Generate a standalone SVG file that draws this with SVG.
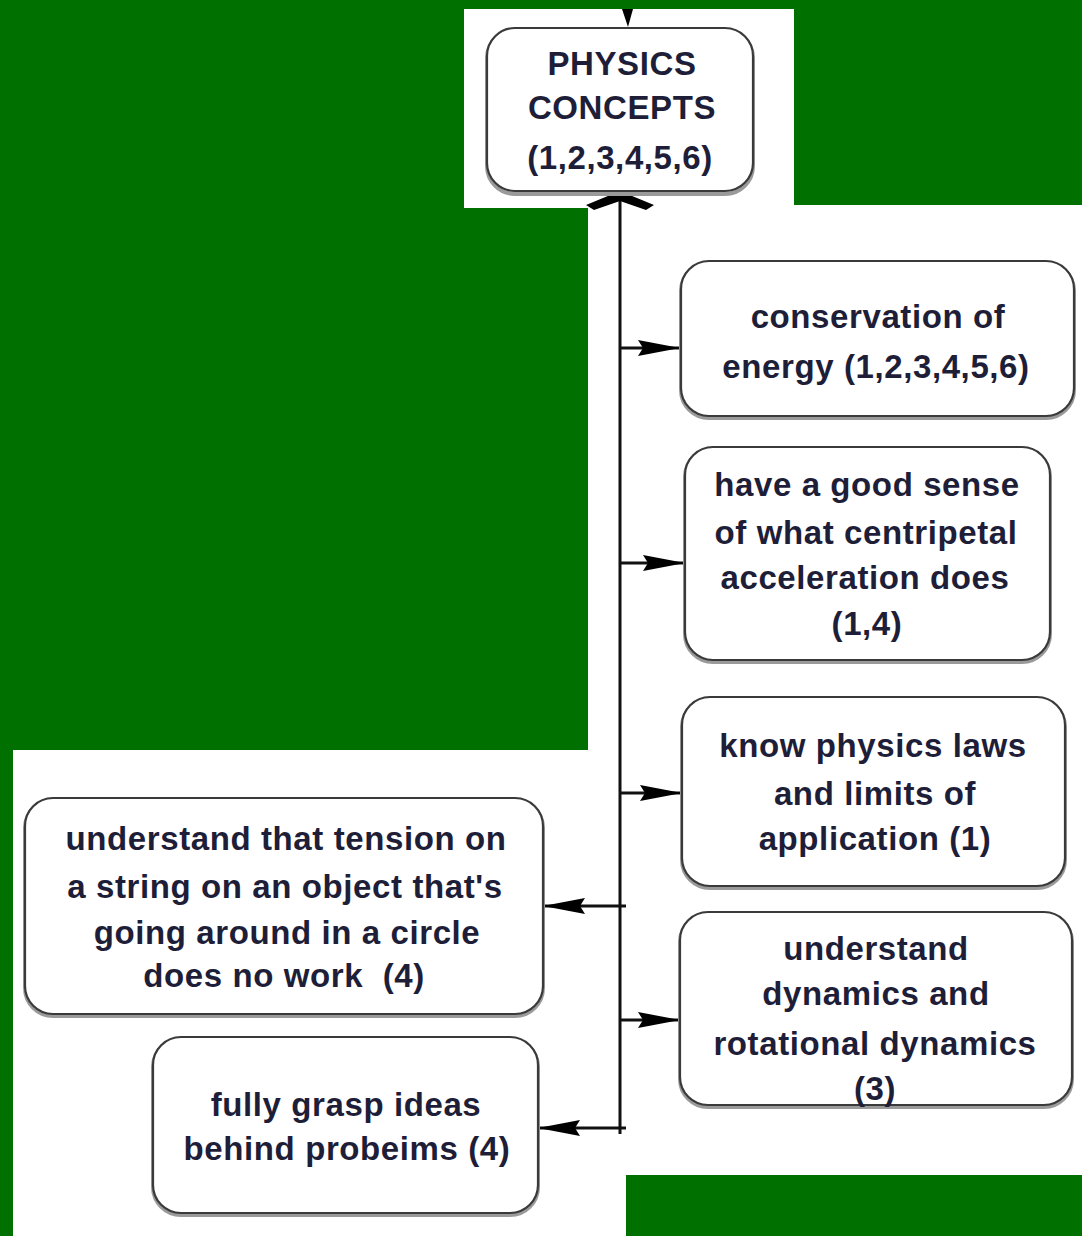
<svg xmlns="http://www.w3.org/2000/svg" width="1082" height="1236" viewBox="0 0 1082 1236">
<defs>
<style>
.box{fill:#fff;stroke:#3a3a3a;stroke-width:2.2}
.shadow{fill:none;stroke:#9a9a9a;stroke-width:4}
.t{font-family:"Liberation Sans",Arial,sans-serif;font-weight:bold;font-size:33px;letter-spacing:0.6px;fill:#1e1e38;text-anchor:middle;white-space:pre}
.ln{stroke:#111;stroke-width:3;fill:none}
</style>
<marker id="ah" viewBox="0 0 42 18" refX="42" refY="9" markerWidth="42" markerHeight="18" markerUnits="userSpaceOnUse" orient="auto">
<path d="M0,1 L42,9 L0,17 L5,9 Z" fill="#000"/>
</marker>
</defs>
<rect x="0" y="0" width="1082" height="1236" fill="#007000"/>
<g id="paper" fill="#fff">
<rect x="464" y="9" width="330" height="199"/>
<rect x="588" y="205" width="494" height="970"/>
<rect x="13" y="750" width="613" height="486"/>
</g>
<g id="connectors">
<polygon points="622,9 633,9 628,27" fill="#000"/>
<line class="ln" x1="620" y1="196" x2="620" y2="1134"/>
<path d="M620,191 L654,205 L646,210 L620,201 L594,210 L586,205 Z" fill="#000"/>
<line class="ln" x1="620" y1="348" x2="680" y2="348" marker-end="url(#ah)"/>
<line class="ln" x1="620" y1="563" x2="685" y2="563" marker-end="url(#ah)"/>
<line class="ln" x1="620" y1="793" x2="682" y2="793" marker-end="url(#ah)"/>
<line class="ln" x1="620" y1="1020" x2="680" y2="1020" marker-end="url(#ah)"/>
<line class="ln" x1="626" y1="906" x2="543" y2="906" marker-end="url(#ah)"/>
<line class="ln" x1="626" y1="1128" x2="538" y2="1128" marker-end="url(#ah)"/>
</g>
<g id="physics-concepts">
<rect class="shadow" x="487" y="30" width="266" height="164" rx="28"/>
<rect class="box" x="487" y="28" width="266" height="163" rx="28"/>
<text class="t" x="622" y="75">PHYSICS</text>
<text class="t" x="622" y="119">CONCEPTS</text>
<text class="t" x="620" y="169">(1,2,3,4,5,6)</text>
</g>
<g id="conservation-energy">
<rect class="shadow" x="681" y="263" width="393" height="155" rx="28"/>
<rect class="box" x="681" y="261" width="393" height="155" rx="28"/>
<text class="t" x="878" y="328">conservation of</text>
<text class="t" x="876" y="378">energy (1,2,3,4,5,6)</text>
</g>
<g id="centripetal">
<rect class="shadow" x="685" y="449" width="365" height="213" rx="28"/>
<rect class="box" x="685" y="447" width="365" height="213" rx="28"/>
<text class="t" x="867" y="496">have a good sense</text>
<text class="t" x="866" y="544">of what centripetal</text>
<text class="t" x="865" y="589">acceleration does</text>
<text class="t" x="867" y="635">(1,4)</text>
</g>
<g id="physics-laws">
<rect class="shadow" x="682" y="699" width="383" height="189" rx="28"/>
<rect class="box" x="682" y="697" width="383" height="189" rx="28"/>
<text class="t" x="873" y="757">know physics laws</text>
<text class="t" x="875" y="805">and limits of</text>
<text class="t" x="875" y="850">application (1)</text>
</g>
<g id="dynamics">
<rect class="shadow" x="680" y="914" width="392" height="193" rx="28"/>
<rect class="box" x="680" y="912" width="392" height="193" rx="28"/>
<text class="t" x="876" y="960">understand</text>
<text class="t" x="876" y="1005">dynamics and</text>
<text class="t" x="875" y="1055">rotational dynamics</text>
<text class="t" x="875" y="1100">(3)</text>
</g>
<g id="tension">
<rect class="shadow" x="25" y="800" width="518" height="216" rx="28"/>
<rect class="box" x="25" y="798" width="518" height="216" rx="28"/>
<text class="t" x="286" y="850">understand that tension on</text>
<text class="t" x="285" y="898">a string on an object that's</text>
<text class="t" x="287" y="944">going around in a circle</text>
<text class="t" x="284" y="987">does no work  (4)</text>
</g>
<g id="grasp-ideas">
<rect class="shadow" x="153" y="1039" width="385" height="176" rx="28"/>
<rect class="box" x="153" y="1037" width="385" height="176" rx="28"/>
<text class="t" x="346" y="1116">fully grasp ideas</text>
<text class="t" x="347" y="1160">behind probeims (4)</text>
</g>
</svg>
